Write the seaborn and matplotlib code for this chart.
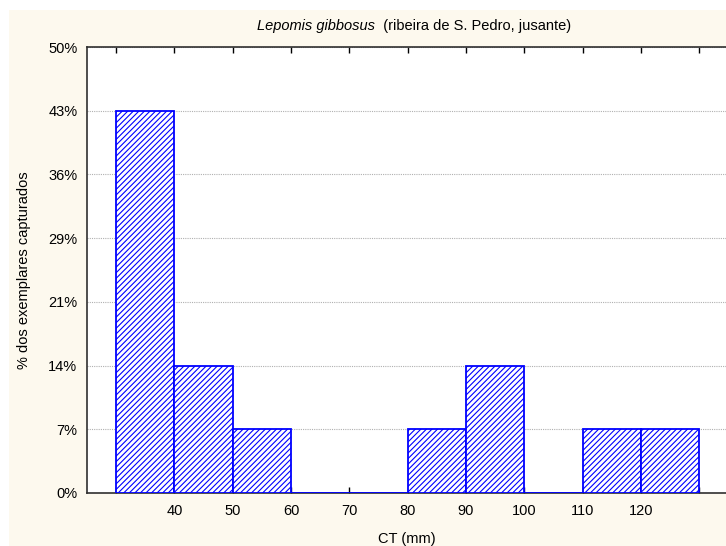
import matplotlib
matplotlib.use("Agg")
import matplotlib.pyplot as plt
import matplotlib.patches as mpatches
import numpy as np
import pandas as pd
import seaborn as sns

# Length classes (mm) and number of fish captured in each class
bin_edges = [30, 40, 50, 60, 70, 80, 90, 100, 110, 120, 130]
counts = [6, 2, 1, 0, 0, 1, 2, 0, 1, 1]
x_tick_values = [30, 40, 50, 60, 70, 80, 90, 100, 110, 120, 130]
x_tick_labels = ["", "40", "50", "60", "70", "80", "90", "100", "110", "120", ""]
y_tick_counts = [0, 1, 2, 3, 4, 5, 6, 7]

total = sum(counts)
y_tick_labels = [f"{round(c / total * 100):.0f}%" for c in y_tick_counts]

df = pd.DataFrame({
    "ct": [(a + b) / 2 for a, b in zip(bin_edges[:-1], bin_edges[1:])],
    "n": counts,
})

sns.set_theme(style="white")
plt.rcParams["font.family"] = ["Liberation Sans", "DejaVu Sans"]
plt.rcParams["text.color"] = "black"
plt.rcParams["axes.labelcolor"] = "black"
plt.rcParams["xtick.color"] = "black"
plt.rcParams["ytick.color"] = "black"
plt.rcParams["hatch.color"] = "#2a2aff"
plt.rcParams["hatch.linewidth"] = 0.8

W, H = 726, 546
fig = plt.figure(figsize=(W / 100, H / 100), dpi=100, facecolor="white")
# cream panel behind the chart
fig.patches.append(mpatches.Rectangle((9 / W, 0), 1 - 9 / W, 1 - 10 / H,
                                      transform=fig.transFigure,
                                      facecolor="#fdf9ee", edgecolor="none",
                                      zorder=-10))

ax = fig.add_axes([87 / W, 1 - 493 / H, 1 - 87 / W, (493 - 47) / H])
ax.set_facecolor("white")

sns.histplot(data=df, x="ct", weights="n", bins=bin_edges, stat="count",
             element="bars", fill=True, color="white", edgecolor="#0000ff",
             linewidth=1.3, alpha=1.0, hatch="//////", ax=ax, zorder=3)

ax.set_xlim(25, 134.6)
ax.set_ylim(0, 7)
ax.set_xticks(x_tick_values)
ax.set_xticklabels(x_tick_labels, fontsize=10.5)
ax.set_yticks(y_tick_counts)
ax.set_yticklabels(y_tick_labels, fontsize=10.5)

ax.yaxis.grid(True, linestyle=(0, (1, 1)), color="#b0b0b0", linewidth=0.8, zorder=0)
ax.xaxis.grid(False)
ax.set_axisbelow(True)

ax.tick_params(axis="x", direction="in", length=4, width=1, color="black",
               top=True, bottom=True, pad=8)
ax.tick_params(axis="y", direction="in", length=0, pad=7)

for side in ["left", "bottom", "top"]:
    ax.spines[side].set_visible(True)
    ax.spines[side].set_color("#303030")
    ax.spines[side].set_linewidth(1.2)
ax.spines["right"].set_visible(False)

ax.set_xlabel("CT (mm)", fontsize=10.5, labelpad=10)
ax.set_ylabel("% dos exemplares capturados", fontsize=10.5, labelpad=12)

fig.text(375 / W, 1 - 26 / H, "Lepomis gibbosus", style="italic",
         ha="right", va="center", fontsize=10.5)
fig.text(375 / W, 1 - 26 / H, "  (ribeira de S. Pedro, jusante)",
         ha="left", va="center", fontsize=10.5)

fig.savefig("out.png", dpi=100, facecolor=fig.get_facecolor())
